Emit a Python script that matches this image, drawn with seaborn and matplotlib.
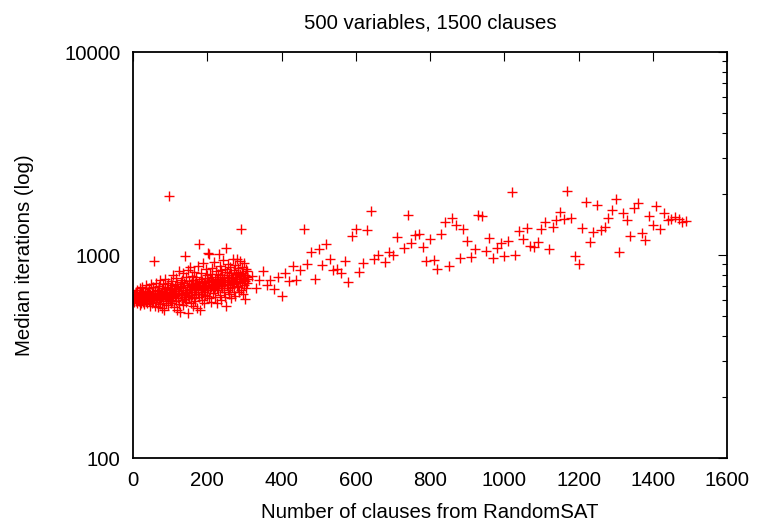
""" Median iterations vs. number of RandomSAT clauses (500 vars, 1500 clauses).
"""

###########
# Imports #
###########
import pandas as pd
import numpy as np
from matplotlib import pyplot as plt
from matplotlib import ticker
import seaborn as sns


########
# Data #
########
# Dense part of the sweep: one run per clause count, 0..309
dense_clauses = list(range(0, 310))
dense_iters = [
    612, 598, 635, 604, 587, 641, 620, 596, 658, 609,
    625, 583, 672, 601, 617, 645, 592, 630, 566, 688,
    608, 651, 579, 622, 699, 613, 640, 588, 655, 603,
    571, 632, 667, 614, 595, 712, 626, 581, 649, 607,
    638, 659, 592, 618, 684, 563, 627, 646, 601, 722,
    615, 578, 653, 636, 694, 589, 937, 624, 560, 668,
    642, 607, 731, 585, 651, 619, 676, 552, 633, 704,
    598, 662, 627, 755, 574, 641, 613, 689, 548, 656,
    620, 716, 595, 647, 533, 679, 631, 762, 604, 658,
    583, 697, 640, 612, 728, 569, 654, 1953, 623, 686,
    601, 744, 637, 578, 669, 715, 592, 652, 797, 620,
    681, 557, 706, 643, 628, 773, 596, 662, 534, 721,
    648, 689, 611, 836, 575, 664, 523, 702, 740, 632,
    684, 598, 757, 645, 815, 569, 693, 624, 728, 671,
    606, 992, 652, 778, 587, 712, 661, 845, 630, 516,
    697, 741, 622, 683, 869, 578, 718, 655, 792, 636,
    704, 562, 749, 681, 617, 827, 669, 593, 731, 688,
    645, 776, 712, 548, 695, 880, 658, 734, 1129, 621,
    533, 703, 764, 642, 819, 679, 597, 743, 690, 912,
    656, 725, 583, 768, 701, 637, 854, 712, 669, 794,
    628, 745, 1019, 686, 1008, 611, 733, 802, 672, 756,
    697, 590, 781, 719, 865, 648, 740, 677, 928, 705,
    763, 621, 694, 836, 729, 582, 758, 687, 805, 741,
    669, 1011, 722, 884, 636, 775, 706, 598, 842, 750,
    691, 796, 733, 944, 661, 768, 714, 623, 857, 737,
    1079, 563, 782, 709, 829, 676, 754, 901, 640, 793,
    722, 868, 688, 745, 611, 812, 771, 694, 957, 732,
    783, 655, 839, 719, 762, 897, 628, 804, 748, 952,
    701, 776, 864, 692, 823, 657, 758, 931, 735, 810,
    674, 1349, 789, 726, 872, 643, 767, 815, 710, 918,
    752, 610, 798, 741, 853, 687, 779, 725, 836, 764,
]

# Sparse part of the sweep: every 10 clauses
sparse_clauses = [
    320, 330, 340, 350, 360, 370, 380, 390, 400, 410,
    420, 430, 440, 450, 460, 470, 480, 490, 500, 510,
    520, 530, 540, 550, 560, 570, 580, 590, 600, 610,
    620, 630, 640, 650, 660, 680, 690, 700, 710, 730,
    740, 750, 760, 770, 780, 790, 800, 810, 820, 830,
    840, 850, 860, 870, 880, 890, 900, 910, 920, 930,
    940, 950, 960, 970, 980, 990, 1000, 1010, 1020, 1030,
    1040, 1050, 1060, 1070, 1080, 1090, 1100, 1110, 1120, 1130,
    1140, 1150, 1160, 1170, 1180, 1190, 1200, 1210, 1220, 1230,
    1240, 1250, 1260, 1270, 1280, 1290, 1300, 1310, 1320, 1330,
    1340, 1350, 1360, 1370, 1380, 1390, 1400, 1410, 1420, 1430,
    1440, 1450, 1460, 1470, 1480, 1490,
]
sparse_iters = [
    788, 690, 753, 837, 709, 753, 678, 776, 630, 818,
    747, 880, 756, 846, 1339, 900, 1035, 764, 1067, 890,
    1129, 952, 844, 856, 813, 937, 736, 1240, 1343, 827,
    910, 1332, 1647, 956, 1003, 924, 1035, 997, 1222, 1079,
    1579, 1142, 1254, 1264, 1099, 937, 1203, 945, 850, 1273,
    1454, 880, 1516, 1410, 966, 1339, 1172, 981, 1067, 1579,
    1562, 1043, 1209, 970, 1086, 1150, 992, 1172, 2036, 1003,
    1308, 1195, 1363, 1104, 1095, 1159, 1348, 1459, 1074, 1369,
    1492, 1623, 1510, 2074, 1527, 989, 903, 1363, 1830, 1163,
    1298, 1757, 1328, 1379, 1516, 1666, 1881, 1038, 1605, 1487,
    1236, 1698, 1797, 1279, 1181, 1556, 1410, 1750, 1339, 1605,
    1482, 1510, 1534, 1504, 1449, 1466,
]

x_ticks = [0, 200, 400, 600, 800, 1000, 1200, 1400, 1600]
y_ticks = [100, 1000, 10000]

data = pd.DataFrame({
    'clauses': dense_clauses + sparse_clauses,
    'iterations': dense_iters + sparse_iters,
})


########
# Plot #
########
sns.set_style('white')
plt.rcParams['font.family'] = ['Liberation Sans', 'DejaVu Sans']
plt.rcParams.update({
    'text.color': 'black',
    'axes.labelcolor': 'black',
    'xtick.color': 'black',
    'ytick.color': 'black',
})

fig, ax = plt.subplots(figsize=(7.57, 5.27), dpi=100)
fig.subplots_adjust(left=0.1757, right=0.9604, top=0.9013, bottom=0.1309)

sns.scatterplot(
    ax=ax,
    data=data,
    x='clauses',
    y='iterations',
    marker='+',
    color='#ff0000',
    s=52,
    linewidth=1.0,
    legend=False,
)

ax.set_yscale('log')
ax.set_xlim(0, 1600)
ax.set_ylim(100, 10000)
ax.set_xticks(x_ticks)
ax.set_yticks(y_ticks)
ax.yaxis.set_major_formatter(ticker.FuncFormatter(lambda v, p: f"{v:.0f}"))
ax.yaxis.set_minor_locator(ticker.LogLocator(base=10, subs=np.arange(2, 10)))
ax.yaxis.set_minor_formatter(ticker.NullFormatter())

# gnuplot-like inward ticks on all four sides
ax.tick_params(axis='both', which='major', direction='in', length=6.5,
               width=0.8, labelsize=14.7, pad=9, top=True, right=True)
ax.tick_params(axis='y', which='minor', direction='in', length=3.6,
               width=0.8, right=True)
for side in ax.spines.values():
    side.set_linewidth(1.3)
    side.set_color('black')

ax.set_title("500 variables, 1500 clauses", fontsize=14.7, pad=17)
ax.set_xlabel("Number of clauses from RandomSAT", fontsize=14.7)
ax.set_ylabel("Median iterations (log)", fontsize=14.7)
ax.xaxis.set_label_coords(0.5, -0.11)
ax.yaxis.set_label_coords(-0.167, 0.5)

fig.savefig('out.png', dpi=100)
